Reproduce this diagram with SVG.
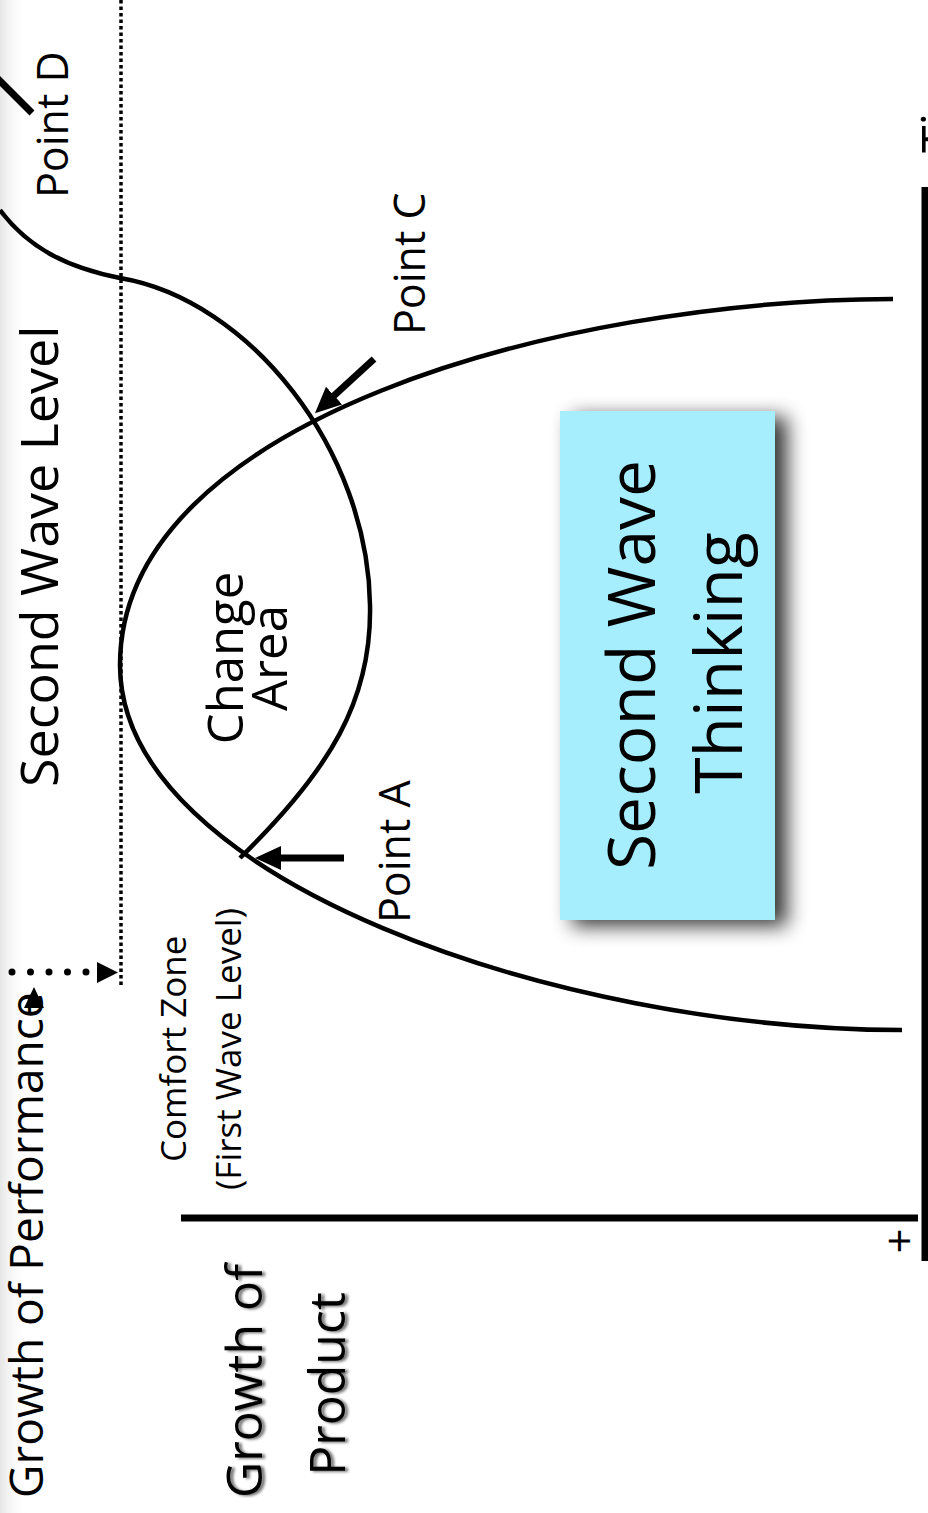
<svg xmlns="http://www.w3.org/2000/svg" width="928" height="1513" viewBox="0 0 928 1513">
<style>
  text { font-family: "Open Sans", "Noto Sans", "Liberation Sans", sans-serif; fill: #000; }
  .curve { fill: none; stroke: #000; stroke-width: 4.5; }
  .axis { stroke: #000; stroke-width: 7; }
  .ptr { stroke: #000; stroke-width: 7; fill: none; }
</style>
<defs>
  <linearGradient id="edge" x1="0" y1="0" x2="1" y2="0">
    <stop offset="0" stop-color="#e6e6e6"/>
    <stop offset="1" stop-color="#ffffff" stop-opacity="0"/>
  </linearGradient>
  <filter id="boxShadow" x="-20%" y="-10%" width="160%" height="130%">
    <feGaussianBlur in="SourceAlpha" stdDeviation="10"/>
    <feOffset dx="12" dy="6" result="b"/>
    <feComponentTransfer><feFuncA type="linear" slope="0.8"/></feComponentTransfer>
    <feMerge><feMergeNode/><feMergeNode in="SourceGraphic"/></feMerge>
  </filter>
  <filter id="textShadow" x="-10%" y="-10%" width="130%" height="130%">
    <feGaussianBlur in="SourceAlpha" stdDeviation="1.8"/>
    <feOffset dx="3" dy="1"/>
    <feComponentTransfer><feFuncA type="linear" slope="0.6"/></feComponentTransfer>
    <feMerge><feMergeNode/><feMergeNode in="SourceGraphic"/></feMerge>
  </filter>
  <marker id="head" markerUnits="userSpaceOnUse" viewBox="0 0 26 24" markerWidth="26" markerHeight="24" refX="11" refY="12" orient="auto">
    <path d="M0,0 L26,12 L0,24 z" fill="#000"/>
  </marker>
</defs>

<rect x="0" y="0" width="28" height="1513" fill="url(#edge)"/>

<g id="box">
  <rect x="560" y="411" width="215" height="509" fill="#a6eefd" filter="url(#boxShadow)"/>
  <text transform="rotate(-90 655 665)" x="655" y="665" font-size="66" text-anchor="middle">Second Wave</text>
  <text transform="rotate(-90 742 663)" x="742" y="663" font-size="66" text-anchor="middle">Thinking</text>
</g>

<g id="connectors">
  <line x1="121" y1="0" x2="121" y2="986" stroke="#000" stroke-width="3.5" stroke-dasharray="3.5 3"/>
  <line x1="12" y1="972" x2="88" y2="972" stroke="#000" stroke-width="7" stroke-linecap="round" stroke-dasharray="0 18.5"/>
  <path d="M97,962 L118,972.5 L97,983 z" fill="#000"/>
  <path d="M34,987 L44,1008 L24,1008 z" fill="#000"/>
  <path id="firstWave" class="curve" d="M893,299 C560,300 120,420 120,665 C120,880 560,1030 902,1030"/>
  <path id="secondWave" class="curve" d="M240,858 C330,770 372,700 370,605 C368,450 250,300 120,278 C70,268 30,250 0,210"/>
  <line class="ptr" x1="344" y1="858" x2="270" y2="858" marker-end="url(#head)"/>
  <line class="ptr" x1="374" y1="359" x2="326" y2="403" marker-end="url(#head)"/>
  <line class="ptr" x1="-5" y1="76" x2="32" y2="113"/>
  <line class="axis" x1="181" y1="1218" x2="918" y2="1218"/>
  <line class="axis" x1="925" y1="187" x2="925" y2="1261"/>
</g>

<g id="labels">
  <text transform="rotate(-90 58 787)" x="58" y="787" font-size="52">Second Wave Level</text>
  <text transform="rotate(-90 68 198)" x="68" y="198" font-size="43">Point D</text>
  <text transform="rotate(-90 425 335)" x="425" y="335" font-size="43">Point C</text>
  <text transform="rotate(-90 410 923)" x="410" y="923" font-size="43">Point A</text>
  <text transform="rotate(-90 957 153)" x="957" y="153" font-size="50">Time</text>
  <text transform="rotate(-90 243 658)" x="243" y="658" font-size="49" text-anchor="middle">Change</text>
  <text transform="rotate(-90 287 658)" x="287" y="658" font-size="49" text-anchor="middle">Area</text>
  <text transform="rotate(-90 186 1162)" x="186" y="1162" font-size="35">Comfort Zone</text>
  <text transform="rotate(-90 241 1190)" x="241" y="1190" font-size="35">(First Wave Level)</text>
  <text transform="rotate(-90 43 1498)" x="43" y="1498" font-size="46">Growth of Performance</text>
  <g filter="url(#textShadow)">
    <text transform="rotate(-90 262 1381)" x="262" y="1381" font-size="50" text-anchor="middle">Growth of</text>
    <text transform="rotate(-90 345 1384)" x="345" y="1384" font-size="50" text-anchor="middle">Product</text>
  </g>
  <text transform="rotate(-90 915 1241)" x="915" y="1241" font-size="44" text-anchor="middle">+</text>
</g>
</svg>
